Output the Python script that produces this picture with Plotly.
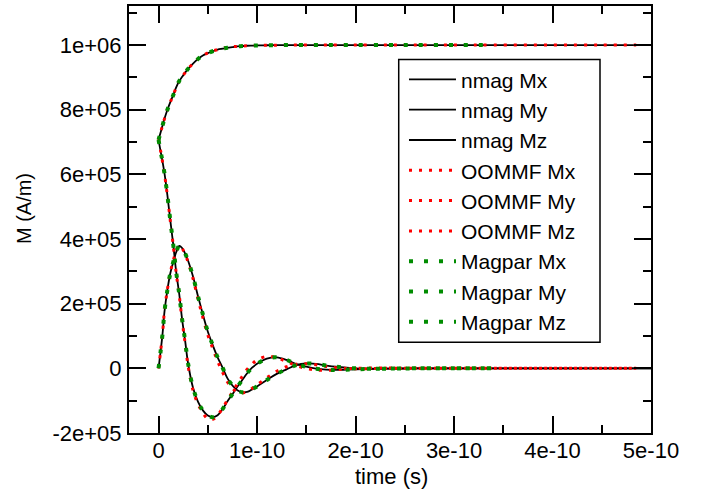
import plotly.graph_objects as go

# time samples in picoseconds, magnetisation in A/m
nmag_t_ps = [0, 2, 4, 6, 9, 12, 15, 18, 21, 24, 27, 30, 35, 40, 45, 50, 55, 60, 65, 70,
             75, 80, 85, 90, 95, 100, 110, 120, 130, 140, 150, 160, 170, 180, 200, 230,
             260, 300, 340, 400, 450, 500]
nmag_mx = [707000, 729000, 751000, 772000, 800000, 824000, 846000, 870000, 889000, 902000,
           915000, 927000, 943000, 957000, 968000, 975000, 981000, 986000, 989000, 992000,
           994000, 996000, 997000, 998000, 998500, 999000, 999500, 999800, 1000000, 1000000,
           1000000, 1000000, 1000000, 1000000, 1000000, 1000000, 1000000, 1000000, 1000000,
           1000000, 1000000, 1000000]
nmag_my = [707000, 673000, 640000, 604000, 535000, 456000, 381000, 296000, 230000, 150000,
           85000, 15000, -60000, -103000, -130000, -146000, -151000, -145000, -126000,
           -102000, -80000, -57000, -36000, -15000, 2000, 14000, 30000, 34000, 26000, 13000,
           5000, -1000, -4000, -5000, -3000, -1000, 0, 0, 0, 0, 0, 0]
nmag_mz = [0, 50000, 105000, 175000, 243000, 295000, 330000, 360000, 379000, 372000, 355000,
           333000, 284000, 224000, 167000, 114000, 72000, 34000, 2000, -31000, -53000,
           -68000, -74000, -73000, -65000, -56000, -36000, -17000, -3000, 10000, 15000, 14000,
           9000, 5000, 0, -1000, 0, 0, 0, 0, 0, 0]

oommf_t_ps = [0, 2, 4, 6, 9, 12, 15, 18, 21, 24, 27, 30, 35, 40, 45, 50, 55, 60, 65, 70,
              75, 80, 85, 90, 95, 100, 110, 120, 130, 140, 150, 160, 170, 180, 200, 230,
              260, 300, 340, 400, 450, 485]
oommf_mx = [707000, 729000, 751000, 772000, 800000, 824000, 846000, 869000, 888000, 902000,
            915000, 927000, 943000, 957000, 968000, 976000, 982000, 986000, 990000, 993000,
            995000, 996000, 997000, 998000, 998500, 999000, 999500, 999800, 1000000, 1000000,
            1000000, 1000000, 1000000, 1000000, 1000000, 1000000, 1000000, 1000000, 1000000,
            1000000, 1000000, 1000000]
oommf_my = [707000, 675000, 640000, 602000, 533000, 455000, 378000, 293000, 226000, 146000,
            78000, 8000, -68000, -110000, -138000, -156000, -158000, -145000, -123000, -98000,
            -73000, -48000, -25000, -3000, 13000, 26000, 37000, 33000, 21000, 8000, 0, -5000,
            -6000, -4000, 0, 1000, 0, 0, 0, 0, 0, 0]
oommf_mz = [0, 50000, 105000, 178000, 244000, 298000, 334000, 364000, 380000, 371000, 352000,
            329000, 278000, 216000, 157000, 104000, 62000, 22000, -12000, -42000, -62000,
            -73000, -76000, -72000, -62000, -51000, -29000, -9000, 5000, 13000, 14000, 11000,
            6000, 2000, -1000, 0, 0, 0, 0, 0, 0, 0]

magpar_t_ps = [0, 2, 4, 6, 9, 12, 15, 18, 21, 24, 27, 30, 35, 40, 45, 50, 55, 60, 65, 70,
               75, 80, 85, 90, 95, 100, 110, 120, 130, 140, 150, 160, 170, 180, 200, 230,
               260, 300, 338]
magpar_mx = [707000, 729000, 751000, 772000, 800000, 824000, 846000, 870000, 889000, 902000,
             915000, 927000, 943000, 957000, 968000, 975000, 981000, 986000, 989000, 992000,
             994000, 996000, 997000, 998000, 998500, 999000, 999500, 999800, 1000000, 1000000,
             1000000, 1000000, 1000000, 1000000, 1000000, 1000000, 1000000, 1000000, 1000000]
magpar_my = [707000, 673000, 640000, 604000, 535000, 456000, 381000, 296000, 230000, 150000,
             85000, 15000, -60000, -103000, -130000, -146000, -151000, -145000, -126000,
             -102000, -80000, -57000, -36000, -15000, 2000, 14000, 30000, 34000, 26000, 13000,
             5000, -1000, -4000, -5000, -3000, -1000, 0, 0, 0]
magpar_mz = [0, 50000, 105000, 175000, 243000, 295000, 330000, 360000, 379000, 372000, 355000,
             333000, 284000, 224000, 167000, 114000, 72000, 34000, 2000, -31000, -53000,
             -68000, -74000, -73000, -65000, -56000, -36000, -17000, -3000, 10000, 15000, 14000,
             9000, 5000, 0, -1000, 0, 0, 0]

x_tickvals = [0, 1e-10, 2e-10, 3e-10, 4e-10, 5e-10]
x_ticktext = ['0', '1e-10', '2e-10', '3e-10', '4e-10', '5e-10']
y_tickvals = [-200000, 0, 200000, 400000, 600000, 800000, 1000000]
y_ticktext = ['-2e+05', '0', '2e+05', '4e+05', '6e+05', '8e+05', '1e+06']

FONT = 'Arial, Liberation Sans, sans-serif'


def secs(ps_list):
    return [v * 1e-12 for v in ps_list]


series = [
    ('nmag Mx', nmag_t_ps, nmag_mx, 'black'),
    ('nmag My', nmag_t_ps, nmag_my, 'black'),
    ('nmag Mz', nmag_t_ps, nmag_mz, 'black'),
    ('OOMMF Mx', oommf_t_ps, oommf_mx, 'red'),
    ('OOMMF My', oommf_t_ps, oommf_my, 'red'),
    ('OOMMF Mz', oommf_t_ps, oommf_mz, 'red'),
    ('Magpar Mx', magpar_t_ps, magpar_mx, 'green'),
    ('Magpar My', magpar_t_ps, magpar_my, 'green'),
    ('Magpar Mz', magpar_t_ps, magpar_mz, 'green'),
]

line_styles = {
    'black': dict(color='black', width=1.8),
    'red': dict(color='#ff0000', width=3, dash='3px,7px'),
    'green': dict(color='rgb(0,140,0)', width=4, dash='4px,11px'),
}

fig = go.Figure()
for name, t, m, kind in series:
    fig.add_trace(go.Scatter(
        x=secs(t), y=m, name=name, mode='lines',
        line=dict(shape='spline', **line_styles[kind])
    ))

axis_common = dict(
    showline=True, linecolor='black', linewidth=2, mirror='allticks',
    ticks='inside', ticklen=17, tickwidth=2, tickcolor='black',
    showgrid=False, zeroline=False,
    tickfont=dict(family=FONT, size=22, color='black'),
)

fig.update_xaxes(
    range=[-3e-11, 5e-10], tickmode='array', tickvals=x_tickvals, ticktext=x_ticktext,
    minor=dict(ticks='inside', ticklen=8, tickwidth=2, tickcolor='black',
               tickmode='linear', tick0=0, dtick=5e-11),
    ticklabelstandoff=-3,
    **axis_common
)
fig.update_yaxes(
    range=[-200000, 1121000], tickmode='array', tickvals=y_tickvals, ticktext=y_ticktext,
    minor=dict(ticks='inside', ticklen=8, tickwidth=2, tickcolor='black',
               tickmode='linear', tick0=0, dtick=100000),
    ticklabelstandoff=1,
    **axis_common
)

# legend frame
fig.add_shape(type='rect', xref='paper', yref='paper',
              x0=0.5167, x1=0.9023, y0=0.2128, y1=0.8748,
              line=dict(color='black', width=1.5), fillcolor='rgba(0,0,0,0)')

fig.add_annotation(text='time (s)', xref='paper', yref='paper', x=0.502, y=-0.1026,
                   xanchor='center', yanchor='middle', showarrow=False,
                   font=dict(family=FONT, size=22, color='black'))
fig.add_annotation(text='M (A/m)', xref='paper', yref='paper', x=-0.2011, y=0.5245,
                   xanchor='center', yanchor='middle', showarrow=False, textangle=-90,
                   font=dict(family=FONT, size=20, color='black'))

fig.update_layout(
    width=709, height=496,
    margin=dict(l=129, r=58, t=4, b=63),
    paper_bgcolor='white', plot_bgcolor='white',
    showlegend=True,
    legend=dict(x=0.5268, y=0.8753, xanchor='left', yanchor='top',
                bgcolor='rgba(0,0,0,0)', borderwidth=0, itemwidth=47,
                font=dict(family=FONT, size=21, color='black')),
)

fig.write_html("out.html", config={'displayModeBar': False},
               post_script="document.body.style.margin='0';")
